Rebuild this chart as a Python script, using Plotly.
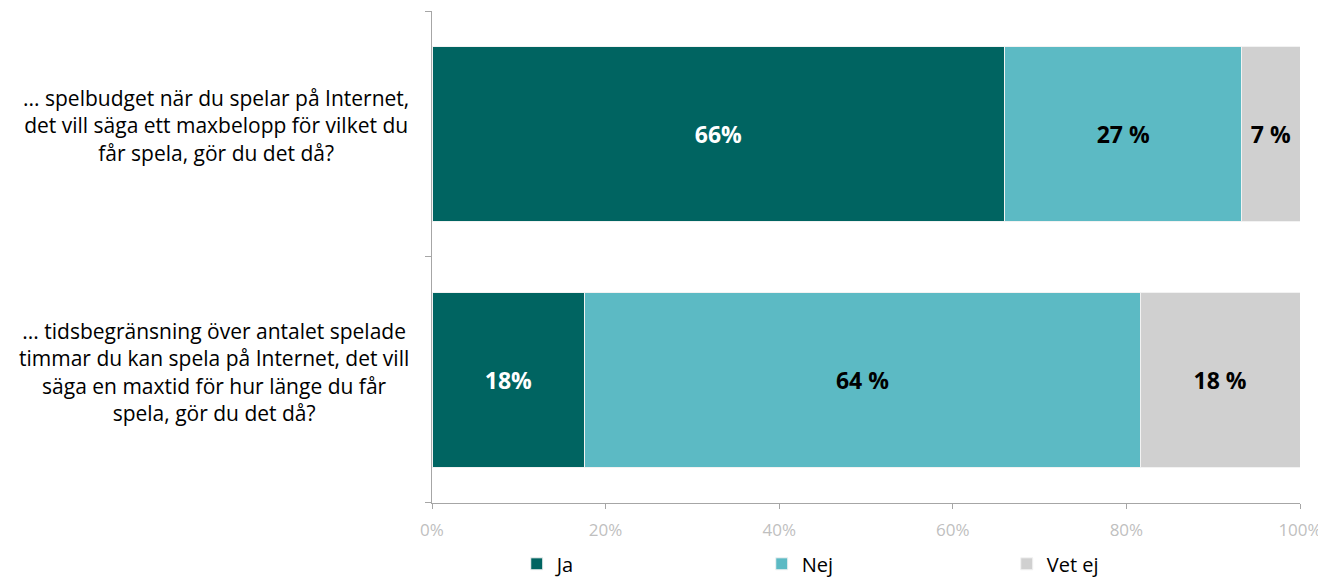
import plotly.graph_objects as go

categories = [
    "... spelbudget när du spelar på Internet,<br>det vill säga ett maxbelopp för vilket du<br>får spela, gör du det då?",
    "... tidsbegränsning över antalet spelade<br>timmar du kan spela på Internet, det vill<br>säga en maxtid för hur länge du får<br>spela, gör du det då?",
]
series_names = ["Ja", "Nej", "Vet ej"]
ja_values = [66.0, 17.6]
nej_values = [27.3, 64.0]
vetej_values = [6.7, 18.4]
ja_labels = ["66%", "18%"]
nej_labels = ["27 %", "64 %"]
vetej_labels = ["7 %", "18 %"]
x_ticks = [0, 20, 40, 60, 80, 100]
x_tick_labels = ["0%", "20%", "40%", "60%", "80%", "100%"]

colors = ["#006461", "#5CBAC4", "#D0D0D0"]
text_colors = ["white", "black", "black"]
FONT = "Open Sans, sans-serif"

ypos = [1, 0]  # first category on top

fig = go.Figure()
for name, vals, labs, col, tcol in zip(
    series_names,
    [ja_values, nej_values, vetej_values],
    [ja_labels, nej_labels, vetej_labels],
    colors,
    text_colors,
):
    fig.add_trace(
        go.Bar(
            name=name,
            y=ypos,
            x=vals,
            orientation="h",
            width=0.714,
            marker=dict(color=col, line=dict(color="#F2F2F2", width=1)),
            text=labs,
            textposition="inside",
            insidetextanchor="middle",
            textangle=0,
            textfont=dict(color=tcol, size=23, family=FONT, weight="bold"),
            hoverinfo="skip",
        )
    )

for yp, cat in zip(ypos, categories):
    fig.add_annotation(
        x=-0.024, xref="paper", xanchor="right",
        y=yp, yref="y", yanchor="middle", yshift=8,
        text=cat, showarrow=False, align="center",
        font=dict(size=21, color="#000000", family=FONT),
    )

fig.update_layout(
    width=1318,
    height=573,
    barmode="stack",
    plot_bgcolor="white",
    paper_bgcolor="white",
    margin=dict(l=424, r=26, t=3, b=77),
    showlegend=True,
    legend=dict(
        orientation="h",
        xref="container", x=0.386, xanchor="left",
        yref="container", y=0.03, yanchor="middle",
        entrywidth=200, entrywidthmode="pixels",
        font=dict(size=20, family=FONT, color="#000000"),
        traceorder="normal",
        tracegroupgap=0,
    ),
    font=dict(family=FONT),
)

fig.update_xaxes(
    range=[0, 100],
    tickvals=x_ticks,
    ticktext=x_tick_labels,
    showgrid=False,
    zeroline=False,
    showline=True,
    linecolor="#A6A6A6",
    linewidth=1,
    ticks="outside",
    ticklen=5,
    tickcolor="#A6A6A6",
    tickfont=dict(size=17, color="#BFBFBF", family=FONT),
    ticklabelstandoff=7,
)
fig.update_yaxes(
    range=[-0.5, 1.5],
    tickvals=[-0.5, 0.5, 1.5],
    showticklabels=False,
    showgrid=False,
    zeroline=False,
    showline=True,
    linecolor="#A6A6A6",
    linewidth=1,
    ticks="outside",
    ticklen=6,
    tickcolor="#A6A6A6",
)

fig.write_html("out.html")
